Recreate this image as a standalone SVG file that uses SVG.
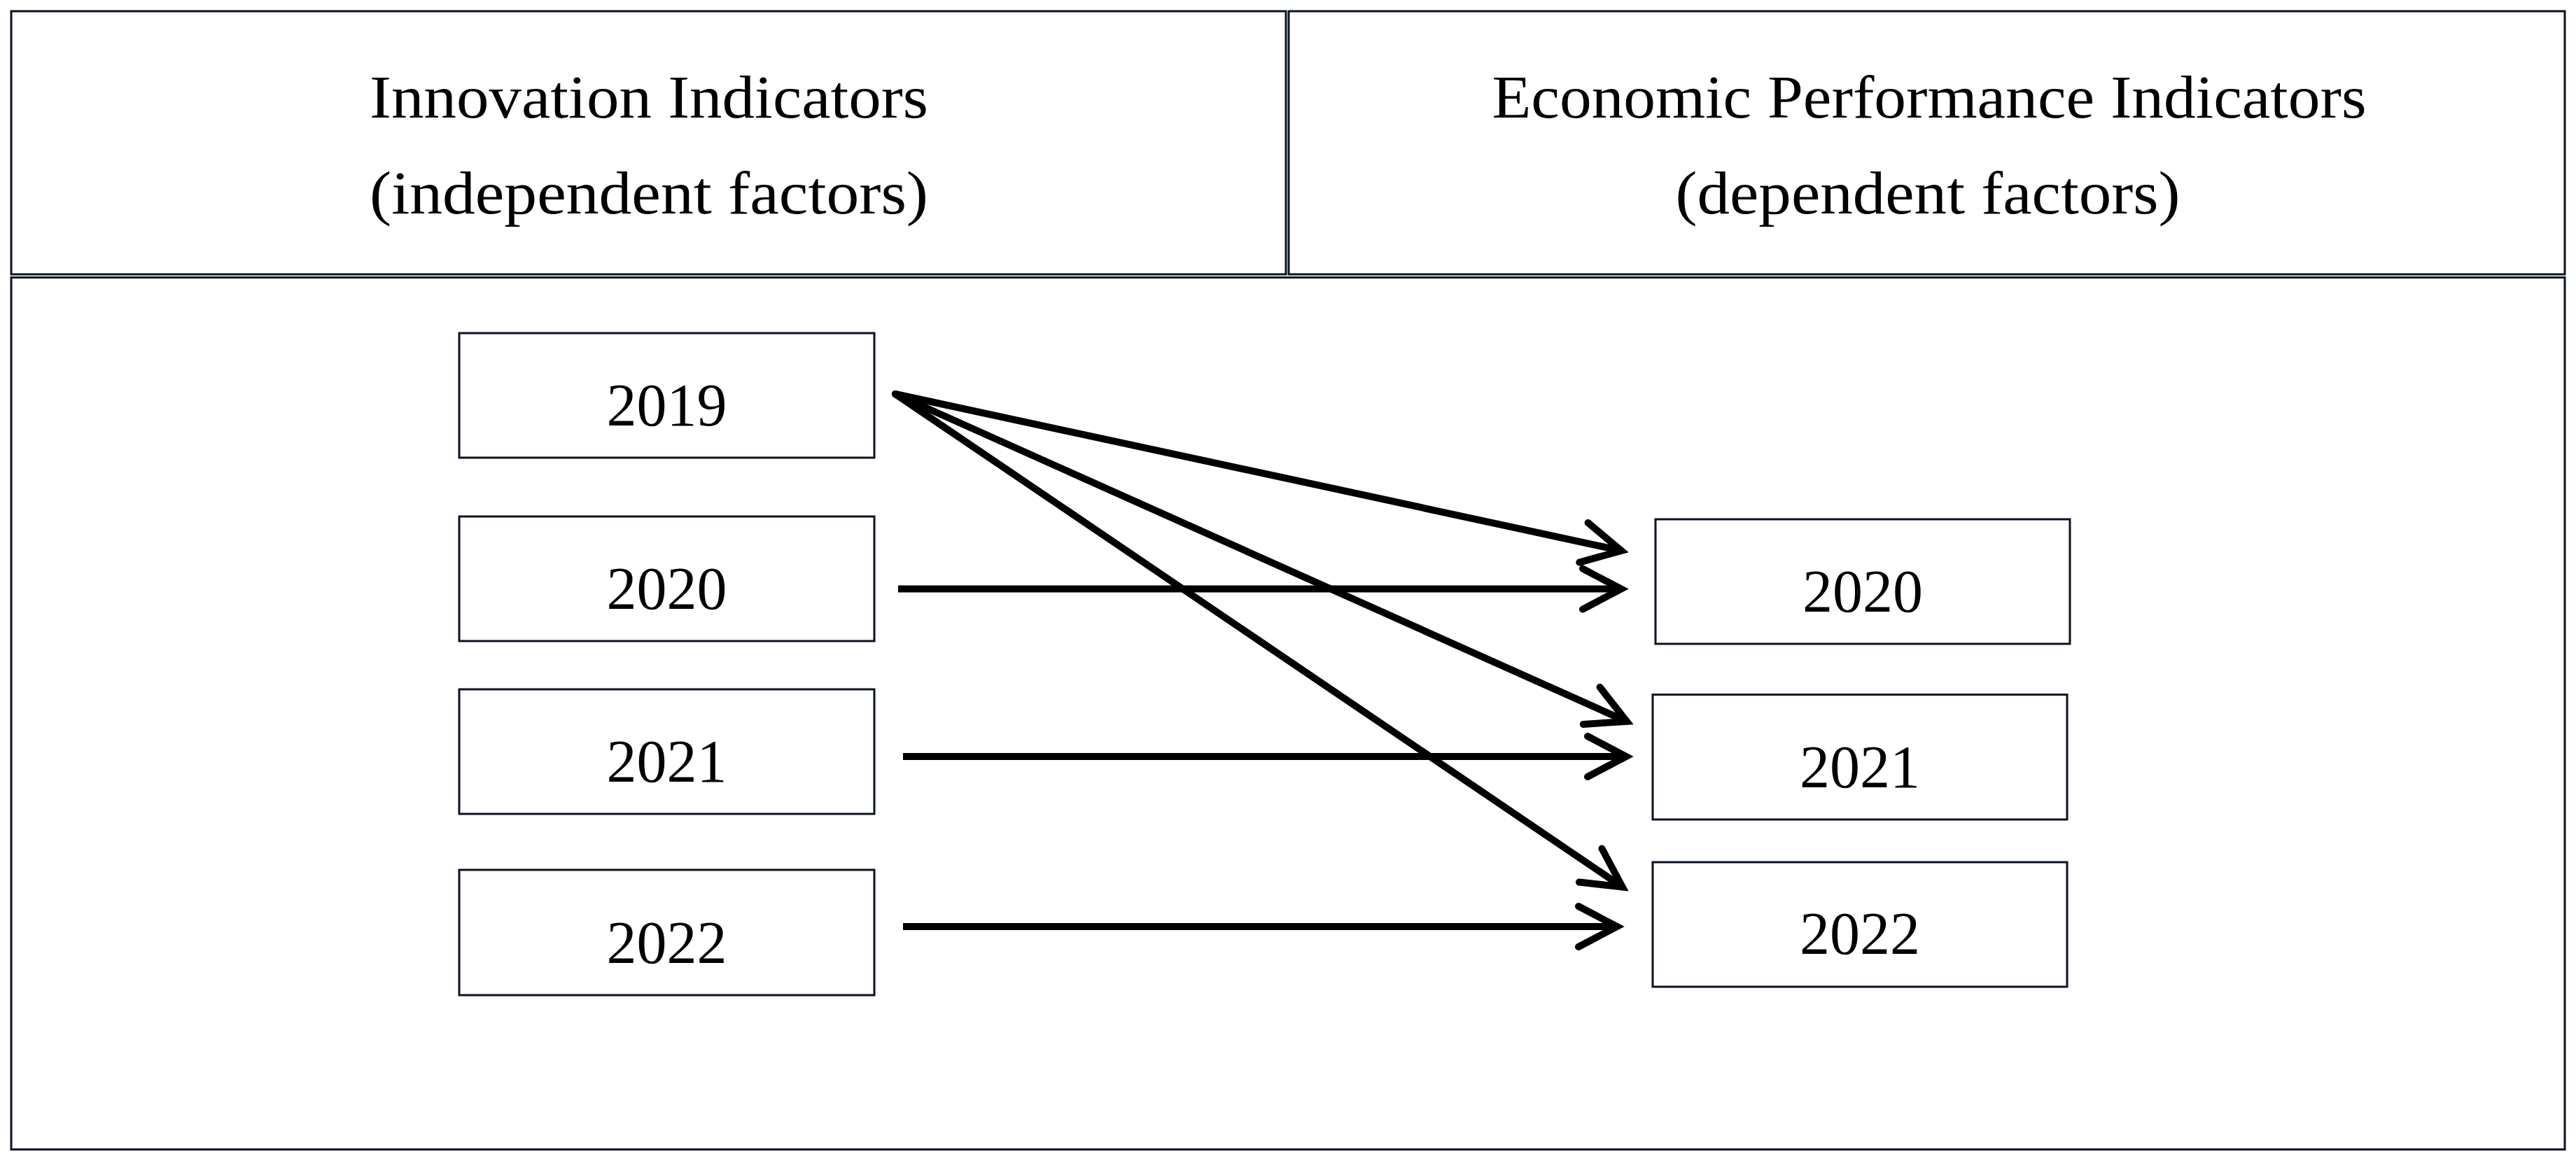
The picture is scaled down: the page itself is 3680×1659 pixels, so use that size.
<svg xmlns="http://www.w3.org/2000/svg" width="3680" height="1659" viewBox="0 0 3680 1659">
<style>
.frame{fill:none;stroke:#0b1220;stroke-width:3}
.box{fill:#fff;stroke:#0b1220;stroke-width:3}
.hdr{font-family:"Liberation Serif","Times New Roman",serif;font-size:86px;fill:#000;text-anchor:middle}
.yr{font-family:"Liberation Serif","Times New Roman",serif;font-size:86px;fill:#000;text-anchor:middle}
.arr{fill:none;stroke:#000;stroke-width:10;marker-end:url(#head)}
</style>
<defs>
<marker id="head" markerUnits="userSpaceOnUse" viewBox="-70 -40 80 80" refX="0" refY="0" markerWidth="80" markerHeight="80" orient="auto" overflow="visible">
<path d="M -55,-29 L 0,0 L -55,29" fill="none" stroke="#000" stroke-width="10" stroke-linecap="round" stroke-linejoin="miter"/>
</marker>
</defs>
<rect width="3680" height="1659" fill="#fff"/>
<g id="table">
<rect class="frame" x="16" y="16" width="1821" height="376"/>
<rect class="frame" x="1841" y="16" width="1823" height="376"/>
<rect class="frame" x="16" y="396.5" width="3648" height="1246"/>
</g>
<g id="header-left">
<text class="hdr" x="927" y="168" textLength="798" lengthAdjust="spacingAndGlyphs">Innovation Indicators</text>
<text class="hdr" x="927" y="305" textLength="798" lengthAdjust="spacingAndGlyphs">(independent factors)</text>
</g>
<g id="header-right">
<text class="hdr" x="2756" y="168" textLength="1249" lengthAdjust="spacingAndGlyphs">Economic Performance Indicators</text>
<text class="hdr" x="2754" y="305" textLength="721" lengthAdjust="spacingAndGlyphs">(dependent factors)</text>
</g>
<g id="in-2019"><rect class="box" x="656" y="476" width="593" height="178"/><text class="yr" x="952.5" y="607.7">2019</text></g>
<g id="in-2020"><rect class="box" x="656" y="738" width="593" height="178"/><text class="yr" x="952.5" y="870">2020</text></g>
<g id="in-2021"><rect class="box" x="656" y="985" width="593" height="178"/><text class="yr" x="952.5" y="1116.7">2021</text></g>
<g id="in-2022"><rect class="box" x="656" y="1243" width="593" height="179"/><text class="yr" x="952.5" y="1375.7">2022</text></g>
<g id="out-2020"><rect class="box" x="2365" y="742" width="592" height="178"/><text class="yr" x="2661" y="873.7">2020</text></g>
<g id="out-2021"><rect class="box" x="2361" y="992.6" width="592" height="178.4"/><text class="yr" x="2657" y="1124.7">2021</text></g>
<g id="out-2022"><rect class="box" x="2361" y="1232" width="592" height="178"/><text class="yr" x="2657" y="1363">2022</text></g>
<g id="connectors">
<line class="arr" x1="1279" y1="563" x2="2316.2" y2="786.9" stroke-linecap="round"/>
<line class="arr" x1="1279" y1="563" x2="2323.9" y2="1030.9" stroke-linecap="round"/>
<line class="arr" x1="1279" y1="563" x2="2317.7" y2="1267.4" stroke-linecap="round"/>
<line class="arr" x1="1283" y1="841.6" x2="2316" y2="841.6"/>
<line class="arr" x1="1290" y1="1081" x2="2323" y2="1081"/>
<line class="arr" x1="1290" y1="1324" x2="2310" y2="1324"/>
</g>
</svg>
